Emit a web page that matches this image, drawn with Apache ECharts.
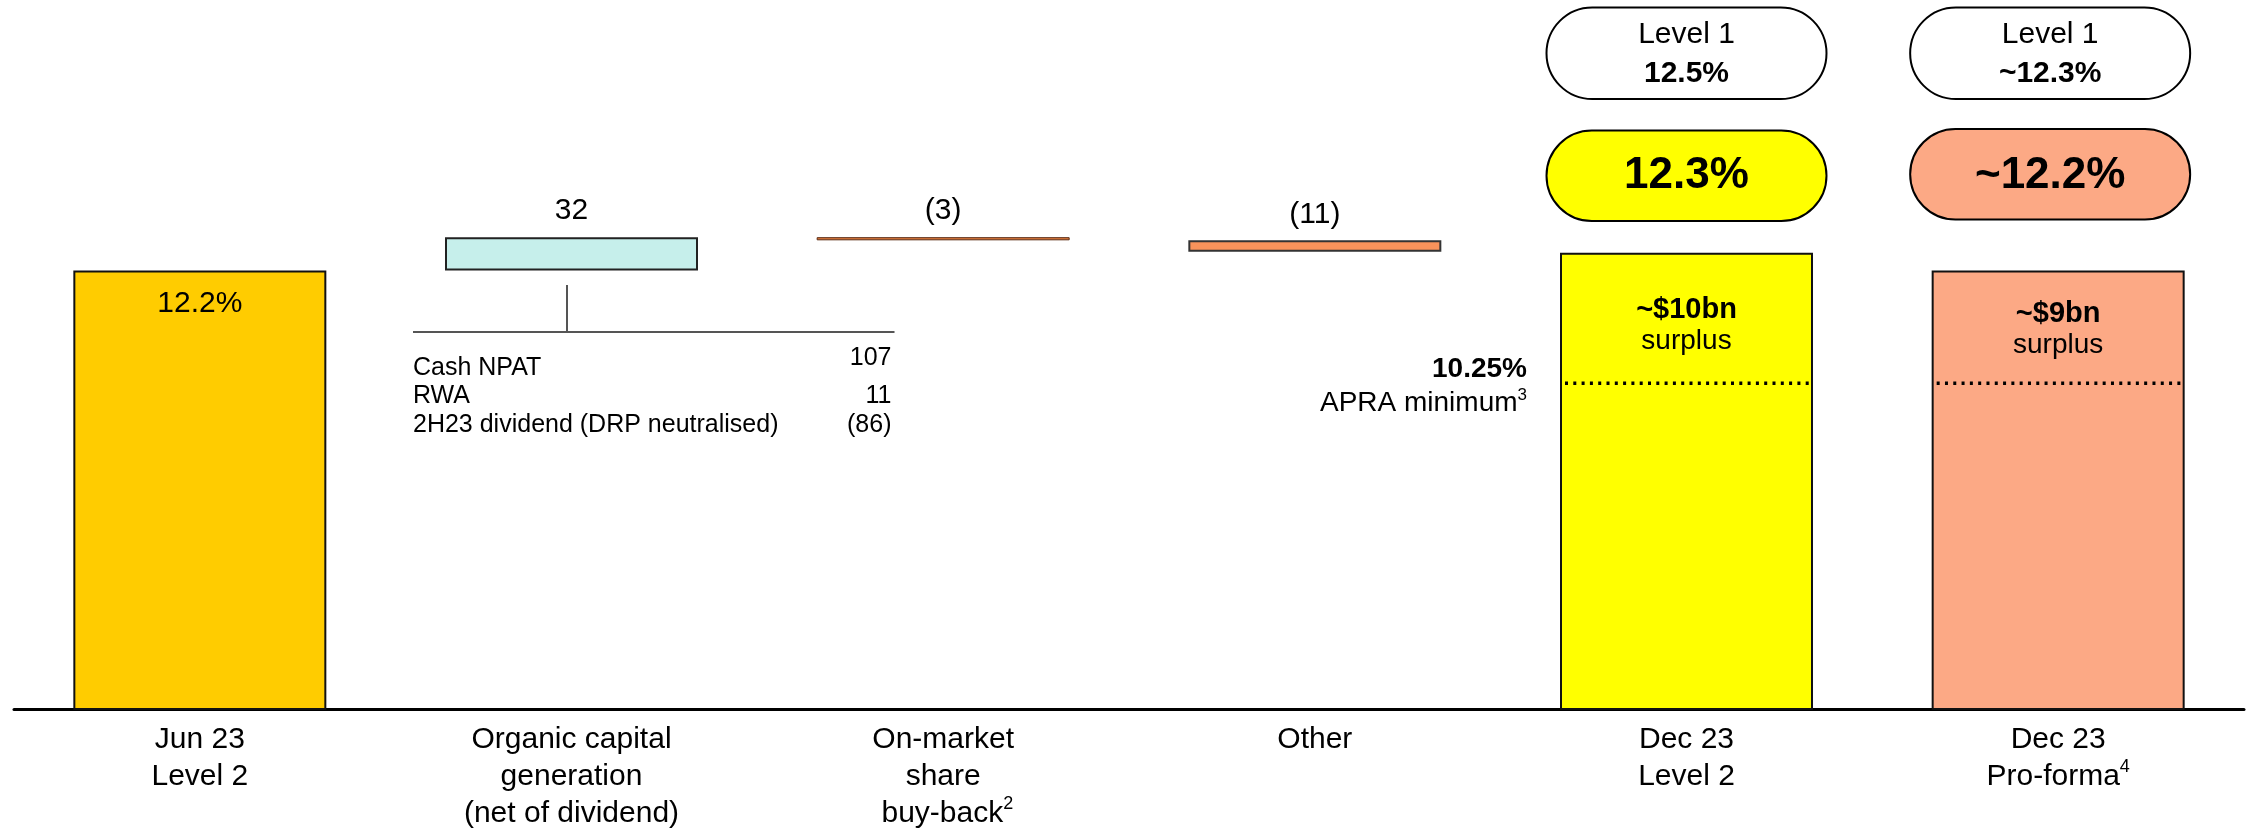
<!DOCTYPE html>
<html><head><meta charset="utf-8">
<script src="https://cdn.jsdelivr.net/npm/echarts@6/dist/echarts.min.js"></script>
<style>html,body{margin:0;padding:0;background:#fff}#c{width:2249px;height:832px}</style>
</head><body><div id="c"></div>
<script>
// ---------- data ----------
const categories = ['Jun 23\nLevel 2', 'Organic capital\ngeneration\n(net of dividend)', 'On-market\nshare\n buy-back{sup|2}', 'Other', 'Dec 23\nLevel 2', 'Dec 23\nPro-forma{sup|4}'];
const levelValues = [12.2, null, null, null, 12.37, 12.2];      // CET1 ratio, % (total bars)
const movementBps = [null, 32, -3, -11, null, null];            // movements, bps
const levelLabels = ['12.2%', '', '', '', '', ''];
const surplusLabels = ['', '', '', '', '~$10bn', '~$9bn'];
const level2Pills = ['12.3%', '~12.2%'];
const level1Pills = ['12.5%', '~12.3%'];
const breakdownItems = ['Cash NPAT', 'RWA', '2H23 dividend (DRP neutralised)'];
const breakdownValues = ['107', '11', '(86)'];
const apraMinimumLabel = '10.25%';
const apraLineLevel = 11.12;   // level at which the schematic APRA minimum line is drawn
const axisMin = 8, axisMax = 14.5;

// ---------- build ----------
const FONT = '"Liberation Sans", Arial, sans-serif';
const BAR_W = 253;
const totalColors = ['#FFCC00', null, null, null, '#FFFF00', '#FCA985'];
const moveColors = [null, '#C6EFEB', '#E07A3C', '#F9935B', null, null];
const moveBorders = [null, '#222', '#5a2a12', '#333', null, null];
const moveBorderW = [null, 2, 1, 2, null, null];

const baseData = [], deltaData = [];
let run = levelValues[0];
for (let i = 0; i < categories.length; i++) {
  const d = movementBps[i];
  if (d == null) { baseData.push('-'); deltaData.push('-'); continue; }
  const next = run + d / 100;
  baseData.push(Math.min(run, next));
  deltaData.push({
    value: Math.abs(d) / 100,
    itemStyle: { color: moveColors[i], borderColor: moveBorders[i], borderWidth: moveBorderW[i] }
  });
  run = next;
}
const totalData = levelValues.map((v, i) => {
  if (v == null) return '-';
  const item = { value: v, itemStyle: { color: totalColors[i], borderColor: '#111', borderWidth: 2 } };
  if (levelLabels[i]) {
    item.label = { show: true, position: 'insideTop', distance: 18, formatter: levelLabels[i],
      fontSize: 30, fontFamily: FONT, color: '#000', lineHeight: 30 };
  } else if (surplusLabels[i]) {
    item.label = { show: true, position: 'insideTop', distance: i === 4 ? 42 : 28,
      formatter: '{b|' + surplusLabels[i] + '}\n{n|surplus}',
      rich: { b: { fontSize: 29, fontWeight: 'bold', fontFamily: FONT, color: '#000', lineHeight: 31 },
              n: { fontSize: 28, fontFamily: FONT, color: '#000', lineHeight: 31 } } };
  }
  return item;
});

const chart = echarts.init(document.getElementById('c'), null, { renderer: 'canvas' });
chart.setOption({
  backgroundColor: '#fff',
  animation: false,
  grid: { left: 14, right: 5, top: 30.5, bottom: 123 },
  xAxis: {
    type: 'category', data: categories,
    axisLine: { show: true, lineStyle: { color: '#000', width: 3 } },
    axisTick: { show: false },
    axisLabel: {
      interval: 0, margin: 12, fontSize: 30, lineHeight: 37, color: '#000', fontFamily: FONT,
      rich: { sup: { fontSize: 18, lineHeight: 24, verticalAlign: 'top', fontFamily: FONT, color: '#000' } }
    }
  },
  yAxis: { type: 'value', min: axisMin, max: axisMax, show: false, splitLine: { show: false } },
  series: [
    { name: 'base', type: 'bar', stack: 'w', barWidth: BAR_W, data: baseData,
      itemStyle: { color: 'transparent', borderWidth: 0 }, silent: true },
    { name: 'movement', type: 'bar', stack: 'w', barWidth: BAR_W, data: deltaData,
      label: { show: true, position: 'top', distance: 11, fontSize: 30, lineHeight: 30, fontFamily: FONT, color: '#000',
        formatter: p => { const d = movementBps[p.dataIndex]; return d > 0 ? String(d) : '(' + (-d) + ')'; } } },
    { name: 'level', type: 'bar', barWidth: BAR_W, barGap: '-100%', data: totalData },
    { name: 'apra', type: 'custom', data: [[4, apraLineLevel], [5, apraLineLevel]], z: 5,
      renderItem: (params, api) => {
        const p = api.coord([api.value(0), api.value(1)]);
        const w = BAR_W;
        return { type: 'line', shape: { x1: p[0] - w / 2 + 5, y1: p[1], x2: p[0] + w / 2 - 3, y2: p[1] },
          style: { stroke: '#000', lineWidth: 3.5, lineDash: [3, 5.3] } };
      } }
  ]
});

// ---------- annotations ----------
const cx = i => chart.convertToPixel({ xAxisIndex: 0 }, i);
const g = [];
function pill(x, y, w, h, fill, texts) {
  g.push({ type: 'rect', shape: { x: x - w / 2, y: y, width: w, height: h, r: h / 2 },
    style: { fill: fill, stroke: '#000', lineWidth: 2 }, z: 10 });
  texts.forEach(t => g.push({ type: 'text', x: x, y: t.y, z: 11,
    style: { text: t.text, align: 'center', verticalAlign: 'middle', fill: '#000',
      font: (t.bold ? 'bold ' : '') + t.size + 'px ' + FONT } }));
}
const pillX = [cx(4), cx(5) - 8];
for (let k = 0; k < 2; k++) {
  pill(pillX[k], 7.5, 280, 91.5, '#fff', [
    { text: 'Level 1', y: 35, size: 30 },
    { text: level1Pills[k], y: 74, size: 30, bold: true }]);
  pill(pillX[k], k === 0 ? 130.5 : 129, 280, 90.5, k === 0 ? '#FFFF00' : '#FCA985', [
    { text: level2Pills[k], y: 176, size: 44, bold: true }]);
}
// organic breakdown
const c1 = cx(1);
g.push({ type: 'line', shape: { x1: c1 - 4.5, y1: 285, x2: c1 - 4.5, y2: 332 }, style: { stroke: '#555', lineWidth: 2 } });
g.push({ type: 'line', shape: { x1: c1 - 158.5, y1: 332, x2: c1 + 323, y2: 332 }, style: { stroke: '#555', lineWidth: 2 } });
const rowY = [368, 396.5, 425], valY = [358, 396.5, 425];
breakdownItems.forEach((t, i) => {
  g.push({ type: 'text', x: c1 - 158.5, y: rowY[i], style: { text: t, align: 'left', verticalAlign: 'middle', fill: '#000', font: '25px ' + FONT } });
  g.push({ type: 'text', x: c1 + 320, y: valY[i], style: { text: breakdownValues[i], align: 'right', verticalAlign: 'middle', fill: '#000', font: '25px ' + FONT } });
});
// APRA minimum label
const c4 = cx(4);
g.push({ type: 'text', x: c4 - 159.5, y: 369, style: { text: apraMinimumLabel, align: 'right', verticalAlign: 'middle', fill: '#000', font: 'bold 28px ' + FONT } });
g.push({ type: 'text', x: c4 - 159.5, y: 403, style: { text: 'APRA minimum{sup|3}', align: 'right', verticalAlign: 'middle', fill: '#000', font: '28px ' + FONT,
  rich: { sup: { fontSize: 17, lineHeight: 22, verticalAlign: 'top', fontFamily: FONT, fill: '#000' } }, lineHeight: 32 } });
chart.setOption({ graphic: { elements: g } });
</script>
</body></html>
